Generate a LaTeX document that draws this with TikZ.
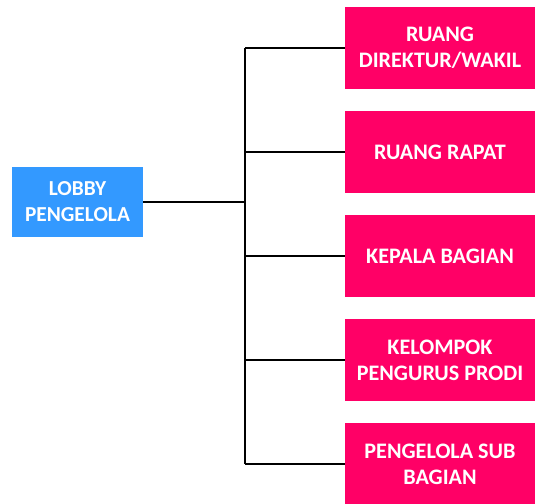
\documentclass[tikz,border=0pt]{standalone}
\usepackage{fontspec}
\setmainfont{Carlito}
\usepackage{tikz}
\definecolor{lobbyblue}{RGB}{51,153,255}
\definecolor{roompink}{RGB}{255,0,102}
\tikzset{
	lobbybox/.style={fill=lobbyblue, text=white, font=\bfseries\fontsize{16}{19.5}\selectfont, align=center, minimum width=98.25pt, minimum height=52.5pt, inner sep=0pt},
	roombox/.style={fill=roompink, text=white, font=\bfseries\fontsize{16.6}{19.5}\selectfont, align=center, minimum width=142.5pt, minimum height=61.5pt, inner sep=0pt},
	link/.style={draw=black, line width=.8pt}
}
\begin{document}
\begin{tikzpicture}[x=.75pt, y=-.75pt]
				\useasboundingbox (0,0) rectangle (535,503);
				\node[lobbybox] (lobby) at (77.5,202) {LOBBY\\PENGELOLA};
				\node[roombox] (r1) at (440,48) {RUANG\\DIREKTUR/WAKIL};
				\node[roombox] (r2) at (440,152) {RUANG RAPAT};
				\node[roombox] (r3) at (440,256) {KEPALA BAGIAN};
				\node[roombox] (r4) at (440,360) {KELOMPOK\\PENGURUS PRODI};
				\node[roombox] (r5) at (440,464) {PENGELOLA SUB\\BAGIAN};
				\coordinate (bus) at (245,202);
				\draw[link] (lobby.east) -- (bus);
				\draw[link] (r1.west -| bus) -- (r5.west -| bus);
				\foreach \i in {1,...,5} {
					\draw[link] (r\i.west) -- (r\i.west -| bus);
				}
			\end{tikzpicture}
\end{document}
